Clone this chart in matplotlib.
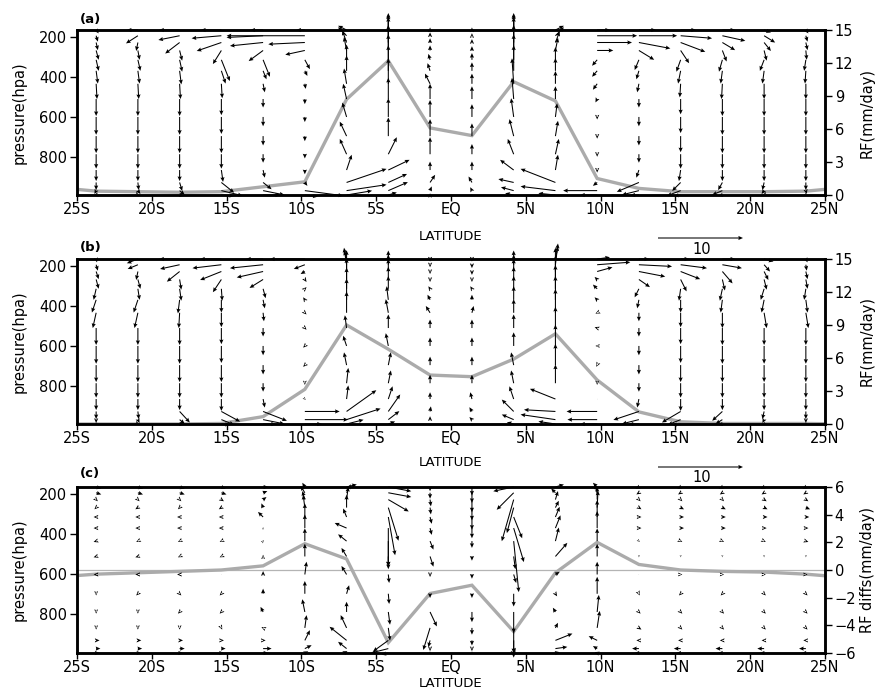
import numpy as np
import matplotlib
matplotlib.use("Agg")
import matplotlib.pyplot as plt

# ---------------- data ----------------
lats = [-23.72, -20.93, -18.14, -15.35, -12.56, -9.77, -6.98, -4.19, -1.40,
        1.40, 4.19, 6.98, 9.77, 12.56, 15.35, 18.14, 20.93, 23.72]
levels = [163.7, 192.5, 226.5, 266.5, 313.5, 368.8, 433.9, 510.5, 600.5,
          696.8, 787.7, 867.2, 929.6, 970.6, 992.6]

rf_lats = [-26.51] + lats + [26.51]
rf_a = [0.7, 0.35, 0.3, 0.25, 0.3, 0.75, 1.2, 8.7, 12.2, 6.1, 5.4, 10.3, 8.55,
        1.5, 0.6, 0.3, 0.3, 0.3, 0.35, 0.7]
rf_b = [0.0, 0.0, 0.0, 0.0, 0.05, 0.67, 3.15, 9.0, 6.8, 4.45, 4.3, 5.9, 8.2,
        4.0, 1.1, 0.2, 0.05, 0.05, 0.05, 0.0]
rf_c = [-0.52, -0.3, -0.2, -0.1, 0.0, 0.3, 1.9, 0.8, -5.25, -1.7, -1.1, -4.45,
        -0.2, 2.0, 0.4, 0.0, -0.1, -0.15, -0.3, -0.55]

u_a = [
    [0.3, -1.3, -2.4, -2.4, -1.5, -1.0, -1.0, 0.0, 0.0, 0.0, 0.0, 1.0, 1.5, 2.0, 1.8, 1.5, 0.8, 0.3],
    [0.2, -1.4, -2.5, -3.5, -4.3, -9.2, -1.0, 0.0, 0.0, 0.0, 0.0, 1.0, 4.7, 4.5, 3.7, 2.7, 1.3, 0.2],
    [0.2, -0.2, -1.7, -2.9, -3.9, -4.3, -0.5, 0.0, 0.0, 0.0, 0.0, 0.5, 4.1, 3.7, 2.9, 1.5, 0.8, 0.2],
    [0.3, 0.2, 0.3, -1.0, -1.7, -2.3, -0.3, 0.0, 0.0, 0.0, 0.0, 0.3, 1.9, 1.8, 1.0, 0.5, 0.3, 0.1],
    [0.3, 0.3, 0.3, 1.0, 0.8, 0.6, 0.0, 0.0, -0.2, 0.0, 0.0, 0.0, -0.6, -0.5, -0.5, -0.4, -0.5, -0.2],
    [0.2, 0.2, 0.2, 0.5, 0.4, 0.3, 0.0, 0.0, -0.3, 0.0, 0.0, 0.0, -0.6, -0.3, -0.3, -0.2, -0.2, -0.1],
    [0.1, 0.1, 0.1, 0.1, 0.2, 0.1, -0.3, 0.0, -0.6, 0.0, -0.2, 0.0, -0.5, -0.2, -0.1, -0.1, 0.0, 0.0],
    [0.0, 0.0, 0.0, 0.0, 0.0, 0.0, -0.4, 0.0, 0.0, 0.0, -0.2, 0.0, -0.2, 0.0, 0.0, 0.0, 0.0, 0.0],
    [0.0, 0.0, 0.0, 0.0, 0.0, 0.0, -0.5, 0.0, 0.0, 0.0, -0.3, 0.2, 0.0, 0.0, 0.0, 0.0, 0.0, 0.0],
    [0.0, 0.0, 0.0, 0.0, 0.0, 0.0, -0.8, 0.0, 0.0, 0.0, -0.5, 0.3, 0.0, 0.0, 0.0, 0.0, 0.0, 0.0],
    [0.0, 0.0, 0.0, 0.0, 0.0, 0.0, -0.8, 1.0, 0.0, 0.0, -0.7, 0.4, 0.0, 0.0, 0.0, 0.0, 0.0, 0.0],
    [0.0, 0.0, 0.0, 0.2, 0.2, 0.0, 0.6, 2.5, 0.0, 0.0, -1.6, 0.3, 0.0, -0.3, -0.2, 0.0, 0.0, 0.0],
    [0.0, 0.1, 0.3, 1.5, 1.0, 0.3, 4.7, 2.2, 0.6, -0.4, -1.8, -4.1, -0.5, -2.6, -1.0, -0.5, -0.2, 0.0],
    [-0.2, 0.3, 0.6, 2.5, 2.5, 4.5, 4.7, 2.3, 0.2, -0.2, -1.5, -4.1, -4.0, -2.0, -1.6, -1.2, -0.3, 0.1],
    [-0.3, 0.2, 0.5, 1.5, 2.0, 1.5, 3.0, 1.0, 0.0, 0.0, -1.0, -2.0, -2.0, -1.0, -0.8, -0.5, -0.2, 0.1],
]
w_a = [
    [-0.4, 0.0, 0.0, 0.0, 0.0, 0.0, 0.5, 2.0, 0.3, 0.3, 2.0, 0.5, 0.0, 0.0, 0.0, 0.0, -0.3, -0.4],
    [-0.7, -0.9, -0.5, -0.3, -0.2, 0.0, 1.0, 2.5, 0.4, 0.3, 2.5, 1.0, 0.0, 0.0, -0.3, -0.6, -0.8, -0.7],
    [-0.9, -1.0, -1.3, -1.0, -0.4, -0.2, 1.4, 3.0, 0.5, 0.4, 3.0, 1.3, 0.0, -0.7, -1.1, -0.9, -1.0, -0.9],
    [-1.1, -1.1, -1.2, -1.6, -1.25, -0.5, 1.6, 3.0, 0.6, 0.5, 3.0, 1.5, 0.0, -1.1, -1.5, -1.3, -1.2, -1.1],
    [-1.3, -1.3, -1.4, -2.5, -2.0, -1.1, 1.8, 3.0, 0.7, 0.8, 3.0, 1.5, -0.7, -1.2, -1.4, -1.4, -1.3, -1.3],
    [-1.5, -1.5, -1.6, -1.5, -1.0, -0.6, 1.8, 3.0, 0.9, 1.0, 3.0, 1.5, -0.7, -1.0, -1.5, -1.5, -1.5, -1.5],
    [-1.8, -1.8, -1.8, -1.7, -1.0, -0.6, 1.8, 3.0, 1.2, 1.2, 3.0, 1.5, -0.7, -1.0, -1.6, -1.8, -1.8, -1.8],
    [-2.0, -2.0, -2.0, -1.9, -1.0, -0.6, 1.8, 2.5, 1.8, 1.5, 2.5, 1.5, -0.4, -1.0, -1.8, -2.0, -2.0, -2.0],
    [-2.1, -2.1, -2.1, -2.0, -1.1, -0.6, 1.7, 2.2, 2.0, 1.5, 2.2, 1.6, -0.3, -1.1, -1.9, -2.1, -2.1, -2.1],
    [-2.0, -2.0, -2.0, -2.0, -1.1, -0.6, 1.7, 2.2, 2.0, 1.5, 2.0, 1.8, -0.3, -1.1, -1.9, -2.0, -2.0, -2.0],
    [-1.7, -1.7, -1.7, -1.7, -1.0, -0.5, 1.8, 2.0, 2.0, 1.2, 1.8, 1.8, -0.3, -1.0, -1.7, -1.7, -1.7, -1.7],
    [-1.3, -1.3, -1.3, -1.4, -0.9, -0.5, 1.8, 1.2, 1.0, 1.0, 1.2, 1.8, -0.3, -0.9, -1.3, -1.3, -1.3, -1.3],
    [-0.9, -0.9, -1.0, -1.2, -0.8, -0.4, 1.6, 1.0, 0.9, 0.7, 0.4, 1.6, -0.4, -1.1, -1.0, -0.9, -0.9, -0.9],
    [-0.4, -0.4, -0.5, -0.6, -0.5, -0.6, 0.7, 1.0, 0.5, 0.4, 0.4, 0.5, 0.0, -0.5, -0.6, -0.5, -0.4, -0.4],
    [-0.1, -0.1, -0.1, -0.1, 0.0, -0.2, 0.5, 0.3, 0.2, 0.1, 0.2, 0.2, 0.0, 0.0, -0.1, -0.1, -0.1, -0.1],
]

u_b = [
    [0.1, -1.3, -2.4, -2.5, -2.0, -4.1, -0.3, 0.0, 0.0, 0.0, 0.0, 0.3, 1.5, 1.2, 1.0, 1.5, 1.1, 0.2],
    [0.2, -1.2, -2.3, -3.4, -3.9, -1.3, -0.3, 0.0, 0.0, 0.0, 0.0, 0.3, 3.9, 3.9, 3.1, 2.3, 0.7, 0.1],
    [0.3, -0.2, -1.5, -2.5, -3.1, -0.5, 0.0, 0.0, 0.0, 0.0, 0.0, 0.0, 1.8, 3.1, 2.3, 1.2, 0.5, 0.2],
    [0.3, 0.3, 0.2, -1.0, -1.6, 0.2, 0.0, 0.0, 0.0, 0.0, 0.0, 0.0, -0.3, 1.3, 0.7, 0.3, 0.3, 0.2],
    [-0.3, 0.2, 0.2, 0.1, 0.3, 0.2, 0.0, 0.0, -0.2, -0.2, 0.0, 0.0, -0.5, -0.5, -0.2, -0.3, -0.4, -0.2],
    [-0.5, -0.5, -0.2, 0.0, 0.2, -0.2, 0.0, -0.2, -0.3, 0.0, 0.0, 0.0, -0.3, -0.2, 0.0, -0.2, -0.3, 0.2],
    [-0.4, -0.4, -0.1, 0.0, 0.1, 0.2, 0.0, -0.3, -0.5, 0.2, 0.0, 0.0, -0.2, 0.0, 0.0, 0.0, 0.3, 0.3],
    [0.0, 0.0, 0.0, 0.0, 0.0, 0.2, -0.2, 0.0, 0.0, 0.0, 0.0, 0.0, -0.3, 0.0, 0.0, 0.0, 0.0, 0.0],
    [0.0, 0.0, 0.0, 0.0, 0.0, -0.2, -0.4, -0.3, 0.0, 0.0, 0.0, 0.0, -0.2, 0.0, 0.0, 0.0, 0.0, 0.0],
    [0.0, 0.0, 0.0, 0.0, 0.0, -0.2, -0.3, 0.3, 0.0, 0.0, -0.3, 0.0, -0.1, 0.0, 0.0, 0.0, 0.0, 0.0],
    [0.0, 0.0, 0.0, 0.0, 0.0, 0.0, 0.2, 0.3, 0.0, 0.0, -0.3, 0.0, 0.0, 0.0, 0.0, 0.0, 0.0, 0.0],
    [0.0, 0.0, 0.0, 0.0, 0.2, 0.1, 0.2, 0.5, 0.0, -0.2, -0.5, -3.0, 0.0, -0.2, 0.0, 0.0, 0.0, 0.0],
    [0.0, 0.1, 1.2, 2.2, 2.8, 4.1, 3.5, 1.4, 0.1, -0.3, -1.4, -3.7, -3.6, -3.0, -2.2, -1.2, -0.2, 0.0],
    [0.0, 0.2, 0.6, 1.5, 2.5, 5.1, 4.0, 1.3, 0.0, -0.3, -1.4, -4.1, -3.5, -2.0, -1.5, -0.8, -0.2, 0.0],
    [0.0, 0.2, 0.5, 1.0, 1.5, 2.0, 2.0, 0.8, 0.0, 0.0, -0.8, -2.0, -2.0, -1.2, -1.0, -0.5, -0.1, 0.0],
]
w_b = [
    [-0.4, -0.5, 0.0, 0.0, 0.0, 0.0, 1.0, 1.0, -0.3, -0.3, 1.0, 1.5, 0.2, 0.0, 0.0, 0.0, -0.3, -0.4],
    [-0.7, -0.5, -0.5, -0.4, -0.4, -0.5, 2.0, 1.2, -0.3, -0.4, 1.2, 2.5, 0.3, -0.2, -0.4, -0.4, -0.8, -0.7],
    [-0.9, -1.0, -1.2, -1.0, -0.7, -0.3, 2.5, 1.5, -0.3, -0.4, 1.5, 2.8, 0.5, -0.6, -0.9, -1.4, -1.0, -0.9],
    [-1.1, -1.1, -1.2, -1.5, -1.0, -0.3, 2.5, 1.5, -0.3, -0.3, 1.5, 2.8, 0.3, -0.9, -1.4, -1.3, -1.2, -1.1],
    [-1.3, -1.3, -1.4, -1.4, -1.1, 0.2, 2.5, 1.5, 0.3, 0.3, 1.5, 2.8, 0.5, -1.0, -1.4, -1.4, -1.3, -1.3],
    [-1.5, -1.5, -1.6, -1.5, -1.0, 0.3, 2.5, 1.6, 0.6, 0.6, 1.6, 2.8, 0.3, -1.0, -1.5, -1.5, -1.5, -1.5],
    [-1.8, -1.8, -1.8, -1.7, -1.0, -0.2, 2.5, 1.6, 0.8, 0.8, 1.6, 2.8, -0.1, -1.0, -1.7, -1.8, -1.8, -1.8],
    [-2.0, -2.0, -2.0, -1.9, -1.0, -0.2, 1.5, 1.6, 1.0, 1.0, 1.6, 2.5, 0.1, -1.0, -1.9, -2.0, -2.0, -2.0],
    [-2.1, -2.1, -2.1, -2.0, -1.1, -0.2, 1.2, 1.5, 1.0, 1.0, 1.6, 2.5, 0.0, -1.1, -2.0, -2.1, -2.1, -2.1],
    [-2.0, -2.0, -2.0, -2.0, -1.1, -0.2, 1.5, 1.5, 1.0, 1.0, 1.5, 2.5, -0.2, -1.1, -2.0, -2.0, -2.0, -2.0],
    [-1.7, -1.7, -1.7, -1.7, -1.0, -0.2, 1.8, 1.5, 1.0, 1.0, 1.5, 2.2, -0.2, -1.0, -1.7, -1.7, -1.7, -1.7],
    [-1.3, -1.3, -1.3, -1.4, -1.0, -0.1, 1.6, 1.5, 0.8, 0.8, 1.5, 1.2, 0.0, -1.0, -1.4, -1.3, -1.3, -1.3],
    [-0.9, -0.9, -1.3, -1.2, -1.1, 0.0, 2.5, 2.0, 0.6, 0.5, 1.4, 0.2, 0.0, -1.0, -1.3, -1.1, -0.9, -0.9],
    [-0.4, -0.4, -0.5, -0.6, -0.5, 0.0, 1.3, 1.0, 0.4, 0.3, 0.6, 0.6, 0.0, -0.5, -0.6, -0.5, -0.4, -0.4],
    [-0.1, -0.1, -0.1, -0.1, 0.0, 0.0, 0.5, 0.3, 0.1, 0.1, 0.2, 0.3, 0.0, 0.0, -0.1, -0.1, -0.1, -0.1],
]

u_c = [
    [0.6, 0.6, 0.6, 0.5, 0.6, -0.3, 1.2, 2.7, 0.0, 0.0, -2.4, 1.0, -0.5, -0.4, -0.4, -0.4, -0.4, -0.4],
    [0.6, 0.6, 0.6, 0.6, 0.5, -0.5, 0.5, 2.7, 0.0, 0.0, -2.0, -0.5, -0.3, -0.3, -0.3, -0.3, -0.3, -0.3],
    [0.2, 0.2, 0.2, 0.3, 0.4, -0.3, 0.2, 2.4, 0.1, 0.0, -1.4, 0.3, 0.0, 0.2, 0.2, 0.2, 0.3, 0.3],
    [-0.2, -0.3, -0.2, -0.3, -0.2, -0.2, 0.0, 1.2, 0.1, 0.0, -0.8, 0.4, 0.1, 0.3, 0.4, 0.4, 0.4, 0.5],
    [-0.3, -0.3, -0.3, -0.3, -0.6, 0.0, -0.4, 0.8, 0.2, 0.0, 1.0, 0.5, 0.0, 0.3, 0.4, 0.4, 0.4, 0.4],
    [-0.3, -0.3, -0.3, -0.3, 0.0, 0.0, -1.4, 0.0, 0.2, 0.0, 1.2, 0.6, 0.0, 0.3, 0.4, 0.4, 0.3, 0.3],
    [-0.3, -0.2, -0.2, -0.2, 0.1, 0.0, -1.0, 0.0, 0.4, 0.0, 0.6, 0.4, 0.0, 0.1, 0.2, 0.2, 0.2, 0.3],
    [-0.3, -0.3, -0.2, -0.2, 0.0, 0.0, -0.6, 0.0, 0.4, 0.0, 0.2, 1.4, 0.0, 0.0, 0.0, 0.0, 0.0, 0.0],
    [-0.3, -0.3, -0.3, 0.0, 0.0, 0.2, -0.6, 0.1, 0.0, 0.0, 0.3, 0.5, 0.0, 0.0, 0.2, 0.2, 0.2, 0.2],
    [0.0, -0.2, 0.2, -0.2, 0.0, 0.0, 0.3, 0.1, 0.0, 0.0, 0.0, 0.2, 0.0, 0.1, -0.2, -0.2, 0.2, 0.2],
    [0.0, 0.0, -0.2, -0.2, -0.3, -0.3, 0.0, 0.2, 0.8, 0.0, 0.0, -0.3, 0.2, 0.2, 0.2, 0.2, 0.2, 0.2],
    [0.0, 0.0, 0.0, 0.1, -0.2, 0.2, -0.7, 0.2, -0.8, 0.0, 0.0, 0.3, 0.3, 0.3, 0.2, 0.2, 0.2, 0.2],
    [0.4, 0.4, 0.4, 0.3, 0.3, 0.6, -2.0, -1.8, -0.2, 0.0, 0.0, 2.0, -1.0, -0.3, -0.3, -0.3, -0.3, -0.3],
    [0.5, 0.5, 0.6, 0.5, 1.0, 0.8, -1.0, -2.0, 0.0, 0.0, 0.2, 1.4, -0.5, -0.8, -0.8, -0.8, -0.8, -0.8],
    [0.4, 0.4, 0.4, 0.3, 0.6, 0.4, -0.5, -0.8, 0.0, 0.0, 0.1, 0.5, -0.3, -0.5, -0.5, -0.5, -0.5, -0.5],
]
w_c = [
    [-0.2, -0.2, -0.2, -0.2, 0.0, 0.5, 0.3, -0.5, -0.5, -1.0, -0.5, 0.3, 0.5, -0.2, -0.2, -0.2, -0.2, -0.2],
    [-0.2, -0.2, -0.2, -0.2, 0.2, 0.8, 1.0, -0.5, -0.7, -1.2, -2.0, 0.5, 1.0, -0.2, -0.2, -0.2, -0.2, -0.2],
    [-0.2, -0.2, -0.2, -0.2, 0.3, 1.0, 1.5, -1.4, -0.8, -1.5, -4.9, 1.0, 1.5, -0.2, -0.2, -0.2, -0.2, -0.2],
    [-0.2, -0.2, -0.2, -0.2, 0.5, 1.5, 1.5, -3.9, -0.8, -1.5, -3.0, 0.8, 2.0, -0.2, -0.2, -0.2, -0.2, -0.2],
    [0.0, 0.0, 0.0, 0.0, 0.6, 1.6, 1.0, -4.5, -0.8, -1.5, -2.5, 1.2, 2.0, 0.0, 0.0, 0.0, 0.0, 0.0],
    [0.0, 0.0, 0.0, 0.0, 0.1, 1.6, 0.6, -4.5, -0.8, -1.2, -4.0, 1.5, 2.0, 0.0, 0.0, 0.0, 0.0, 0.0],
    [-0.1, -0.1, -0.1, -0.1, 0.1, 1.5, 0.8, -3.0, -1.0, -0.8, -6.0, 1.6, 1.5, -0.1, -0.1, -0.1, -0.1, -0.1],
    [-0.1, -0.1, -0.1, -0.1, 0.2, 1.5, 1.0, -1.5, -1.2, -0.5, -1.5, 1.6, 1.5, -0.1, -0.1, -0.1, -0.1, -0.1],
    [0.0, 0.0, 0.0, 0.0, 0.4, 1.5, 1.0, -1.0, -0.3, -0.5, -1.0, 0.3, 1.5, 0.0, 0.0, 0.0, 0.0, 0.0],
    [-0.2, -0.2, -0.2, -0.2, 0.6, 1.5, 1.0, -1.2, -0.5, -0.5, -1.5, -0.3, 2.0, -0.2, -0.2, -0.2, -0.2, -0.2],
    [-0.2, -0.2, -0.2, -0.2, 0.6, 1.5, 1.2, -1.5, -1.7, -1.2, -2.5, 0.5, 2.0, -0.2, -0.2, -0.2, -0.2, -0.2],
    [-0.2, -0.2, -0.2, -0.2, 0.1, 1.5, 1.5, -1.5, -2.6, -0.8, -3.5, 0.6, 2.0, -0.2, -0.2, -0.2, -0.2, -0.2],
    [0.0, 0.0, 0.0, 0.0, 0.0, 1.2, 1.6, -1.3, -0.8, -0.6, -1.5, 0.8, 0.5, 0.0, 0.0, 0.0, 0.0, 0.0],
    [0.0, 0.0, 0.0, 0.0, 0.0, 0.4, 0.8, -0.5, -0.3, -0.3, -0.5, 0.2, 0.3, 0.0, 0.0, 0.0, 0.0, 0.0],
    [0.0, 0.0, 0.0, 0.0, 0.0, 0.2, 0.2, -0.2, -0.1, -0.1, -0.2, 0.1, 0.1, 0.0, 0.0, 0.0, 0.0, 0.0],
]

xticks = [-25, -20, -15, -10, -5, 0, 5, 10, 15, 20, 25]
xticklabels = ["25S", "20S", "15S", "10S", "5S", "EQ", "5N", "10N", "15N", "20N", "25N"]
yticks = [200, 400, 600, 800]
ref_len = 10

# ---------------- figure ----------------
W, H = 877, 690
fig = plt.figure(figsize=(W / 100, H / 100), dpi=100)
plt.rcParams["font.family"] = ["DejaVu Sans"]
FS = 10.5
LAT_FS = 9.5

panels = [
    dict(top=30, bot=195, u=u_a, w=w_a, rf=rf_a, rlim=(0, 15), rticks=[0, 3, 6, 9, 12, 15],
         rlabel="RF(mm/day)", tag="(a)", tag_y=20, lat_y=236, key=(238, 249)),
    dict(top=259, bot=424, u=u_b, w=w_b, rf=rf_b, rlim=(0, 15), rticks=[0, 3, 6, 9, 12, 15],
         rlabel="RF(mm/day)", tag="(b)", tag_y=248, lat_y=463, key=(467, 478)),
    dict(top=487, bot=653, u=u_c, w=w_c, rf=rf_c, rlim=(-6, 6), rticks=[-6, -4, -2, 0, 2, 4, 6],
         rlabel="RF diffs(mm/day)", tag="(c)", tag_y=474, lat_y=683.5, key=None),
]

left_px, right_px = 77, 825
X, P = np.meshgrid(lats, levels)

for pnl in panels:
    rect = [left_px / W, 1 - pnl["bot"] / H, (right_px - left_px) / W, (pnl["bot"] - pnl["top"]) / H]
    ax = fig.add_axes(rect)
    ax2 = ax.twinx()
    ax.set_zorder(ax2.get_zorder() + 1)
    ax.patch.set_visible(False)

    # RF line on right axis
    if pnl["rlim"][0] < 0:
        ax2.axhline(0, color="#b4b4b4", lw=0.9, zorder=1)
    ax2.plot(rf_lats, pnl["rf"], color="#ababab", lw=2.4, solid_joinstyle="miter", zorder=2)
    ax2.set_ylim(*pnl["rlim"])
    ax2.set_yticks(pnl["rticks"])
    ax2.tick_params(axis="y", direction="out", length=5, width=1, labelsize=FS, pad=2)
    ax2.set_ylabel(pnl["rlabel"], fontsize=FS)
    ax2.yaxis.set_label_coords((860 - left_px) / (right_px - left_px), 0.5)

    # vectors
    q = ax.quiver(X, P, np.array(pnl["u"]), np.array(pnl["w"]), angles="uv",
                  scale_units="width", scale=88, pivot="tail", width=0.0014,
                  headwidth=4.0, headlength=4.5, headaxislength=4.0,
                  minshaft=0.4, minlength=0.3,
                  color="black", clip_on=False, zorder=3)
    ax.set_xlim(-25, 25)
    ax.set_ylim(992.6, 163.7)
    ax.set_xticks(xticks)
    ax.set_xticklabels(xticklabels)
    ax.set_yticks(yticks)
    ax.tick_params(axis="y", direction="out", length=5, width=1, labelsize=FS, pad=2)
    ax.tick_params(axis="x", direction="out", length=4, width=1, labelsize=FS, pad=1)
    ax.set_ylabel("pressure(hpa)", fontsize=FS)
    ax.yaxis.set_label_coords((27 - left_px) / (right_px - left_px), 0.5)
    for a in (ax, ax2):
        for s in a.spines.values():
            s.set_linewidth(1.8)

    fig.text(80 / W, 1 - pnl["tag_y"] / H, pnl["tag"], fontsize=9.5, fontweight="bold",
             ha="left", va="center")
    fig.text(451 / W, 1 - pnl["lat_y"] / H, "LATITUDE", fontsize=LAT_FS,
             ha="center", va="center")
    if pnl["key"] is not None:
        ay, ty = pnl["key"]
        ax.quiverkey(q, 700.5 / W, 1 - ay / H, ref_len, "", coordinates="figure",
                     labelpos="S")
        fig.text(702 / W, 1 - ty / H, str(ref_len), fontsize=FS, ha="center", va="center")

fig.savefig("out.png", dpi=100)
